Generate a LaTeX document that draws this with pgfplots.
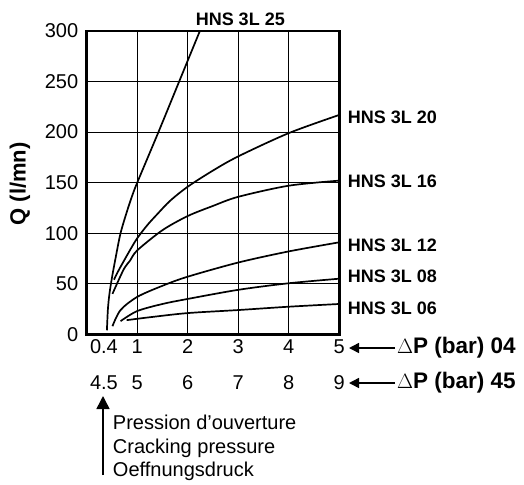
\documentclass[border=0pt]{standalone}
\usepackage{pgfplots}
\pgfplotsset{compat=1.18}
\usepackage{fontspec}
\setmainfont{Liberation Sans}
\usetikzlibrary{arrows.meta}
\pgfplotsset{curve/.style={black, no markers, line width=1.7pt, smooth, tension=0.5}}
\begin{document}
\begin{tikzpicture}
\useasboundingbox (0,0) rectangle (524pt,-484pt);
\begin{axis}[
  name=ax,
  at={(86.7pt,-334.3pt)}, anchor=south west,
  scale only axis, width=252.6pt, height=303.3pt,
  xmin=0, xmax=5, ymin=0, ymax=300,
  xtick={1,2,3,4,5}, ytick={0,50,100,150,200,250,300},
  extra x ticks={0.4}, extra x tick labels={0.4},
  extra x tick style={grid=none, major tick length=0pt, xticklabel style={xshift=-3pt}},
  tick align=inside,
  xmajorgrids, ymajorgrids,
  major grid style={draw=black, line width=1pt},
  tick style={draw=black, line width=1pt},
  axis line style={draw=black, line width=2.4pt},
  /pgf/number format/assume math mode=true,
  tick label style={font=\fontsize{20}{23}\selectfont, black},
  xticklabel style={yshift=-2pt},
  yticklabel style={xshift=-5pt},
  ylabel={Q (l/mn)},
  ylabel style={at={(rel axis cs:-0.264,0.496)}, anchor=center, font=\fontsize{22}{25}\selectfont\bfseries},
  clip=false,
]
% HNS 3L 25
\addplot[curve] coordinates {(0.40,4) (0.42,25) (0.45,40) (0.5,56) (0.57,75) (0.67,100) (0.8,122) (0.9,137) (1,150) (1.42,200) (1.83,250) (2.24,300)};
% HNS 3L 20
\addplot[curve] coordinates {(0.54,54) (0.64,64) (0.86,83.5) (1,95) (1.2,108) (1.4,119) (1.65,132) (2,146) (2.5,162) (3,176) (4,199) (5,217)};
% HNS 3L 16
\addplot[curve] coordinates {(0.51,40) (0.73,64) (0.86,73) (1,83) (1.5,103) (2,117) (2.5,127) (3,136) (4,147) (5,152)};
% HNS 3L 12
\addplot[curve] coordinates {(0.51,8) (0.67,24) (1,37) (1.5,48) (2,57) (3,71) (4,82) (5,91)};
% HNS 3L 08
\addplot[curve] coordinates {(0.67,13) (1,23) (1.5,30) (2,35) (3,44) (4,50.5) (5,55)};
% HNS 3L 06
\addplot[curve] coordinates {(0.79,14) (1.27,17) (2,21) (3,24) (4,27.3) (5,30)};

\begin{scope}[every node/.style={font=\fontsize{18}{21}\selectfont\bfseries}]
\node at (axis cs:3.04,311.5) {HNS 3L 25};
\node[anchor=west] at (axis cs:5.1,215) {HNS 3L 20};
\node[anchor=west] at (axis cs:5.1,151.8) {HNS 3L 16};
\node[anchor=west] at (axis cs:5.1,88.4) {HNS 3L 12};
\node[anchor=west] at (axis cs:5.1,57.7) {HNS 3L 08};
\node[anchor=west] at (axis cs:5.1,25.7) {HNS 3L 06};
\end{scope}

\begin{scope}[every node/.style={font=\fontsize{20}{23}\selectfont}]
\node[xshift=-3pt] at (axis cs:0.4,-48.2) {4.5};
\node at (axis cs:1,-48.2) {5};
\node at (axis cs:2,-48.2) {6};
\node at (axis cs:3,-48.2) {7};
\node at (axis cs:4,-48.2) {8};
\node at (axis cs:5,-48.2) {9};
\node[anchor=west] at (axis cs:0.45,-86.8) {Pression d{\char"0027}ouverture};
\node[anchor=west] at (axis cs:0.45,-112.6) {Cracking pressure};
\node[anchor=west] at (axis cs:0.45,-135.3) {Oeffnungsdruck};
\end{scope}
\node[anchor=west, inner sep=0pt, font=\fontsize{22.5}{25}\selectfont\bfseries] at (axis cs:6.14,-13.6) {$\Delta$P (bar) 04};
\node[anchor=west, inner sep=0pt, font=\fontsize{22.5}{25}\selectfont\bfseries] at (axis cs:6.14,-48.2) {$\Delta$P (bar) 45};
\end{axis}
\draw[line width=2.7pt, line join=miter] (ax.south west) rectangle (ax.north east);
\draw[line width=1.5pt, -{Triangle[length=10pt,width=10pt]}] (395pt,-348pt) -- (349pt,-348pt);
\draw[line width=1.5pt, -{Triangle[length=10pt,width=10pt]}] (395pt,-383pt) -- (349pt,-383pt);
\draw[line width=1.5pt, -{Triangle[length=13pt,width=13pt]}] (103pt,-475pt) -- (103pt,-396pt);
\end{tikzpicture}
\end{document}
